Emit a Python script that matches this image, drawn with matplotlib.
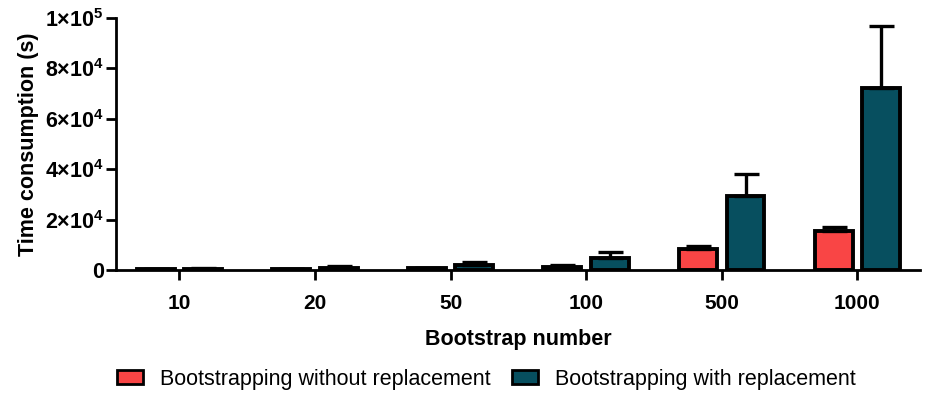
import numpy as np
import matplotlib
matplotlib.use('Agg')
import matplotlib.pyplot as plt
from matplotlib.patches import Patch

plt.rcParams['font.family'] = ['Liberation Sans', 'DejaVu Sans']
plt.rcParams['mathtext.fontset'] = 'custom'
plt.rcParams['mathtext.bf'] = 'Liberation Sans:bold'
plt.rcParams['mathtext.rm'] = 'Liberation Sans'

# data
boot_numbers = ['10', '20', '50', '100', '500', '1000']
without_repl = [250, 300, 600, 1200, 8300, 15500]
without_err = [150, 200, 300, 600, 1200, 1700]
with_repl = [500, 900, 2000, 4800, 29500, 72200]
with_err = [400, 600, 1300, 2300, 8700, 24600]
y_ticks = [0, 20000, 40000, 60000, 80000, 100000]
y_tick_labels = ['0', r'$\mathbf{2{\times}10^{4}}$', r'$\mathbf{4{\times}10^{4}}$',
                 r'$\mathbf{6{\times}10^{4}}$', r'$\mathbf{8{\times}10^{4}}$',
                 r'$\mathbf{1{\times}10^{5}}$']

red = '#F94545'
teal = '#074F5F'

fig = plt.figure(figsize=(9.30, 3.93), dpi=100)
ax = fig.add_axes([0.125, 0.313, 0.864, 0.641])

x = np.arange(len(boot_numbers))
w = 0.28
off = 0.175
ekw = dict(elinewidth=2.4, capthick=2.4, ecolor='black')

ax.bar(x - off, without_repl, w, color=red, edgecolor='black', linewidth=2.8,
       yerr=[np.zeros(len(x)), without_err], capsize=9, error_kw=ekw, zorder=3)
ax.bar(x + off, with_repl, w, color=teal, edgecolor='black', linewidth=2.8,
       yerr=[np.zeros(len(x)), with_err], capsize=9, error_kw=ekw, zorder=3)

ax.set_xlim(-0.465, 5.46)
ax.set_ylim(0, 100000)
ax.set_xticks(x)
ax.set_xticklabels(boot_numbers, fontsize=15, fontweight='bold')
ax.set_yticks(y_ticks)
ax.set_yticklabels(y_tick_labels, fontsize=15.5, fontweight='bold')

for s in ['top', 'right']:
    ax.spines[s].set_visible(False)
for s in ['left', 'bottom']:
    ax.spines[s].set_linewidth(2)
ax.tick_params(axis='both', width=2, length=7, pad=2)
ax.tick_params(axis='x', pad=10)

ax.set_ylabel('Time consumption (s)', fontsize=15.5, fontweight='bold', labelpad=4)
ax.set_xlabel('Bootstrap number', fontsize=15.5, fontweight='bold', labelpad=12)

handles = [Patch(facecolor=red, edgecolor='black', linewidth=2),
           Patch(facecolor=teal, edgecolor='black', linewidth=2)]
fig.legend(handles, ['Bootstrapping without replacement', 'Bootstrapping with replacement'],
           loc='center', bbox_to_anchor=(0.523, 0.035), ncol=2, frameon=False,
           fontsize=15.5, handlelength=1.2, handleheight=0.6, columnspacing=1.0,
           handletextpad=0.8)

plt.savefig('out.png', dpi=100)
